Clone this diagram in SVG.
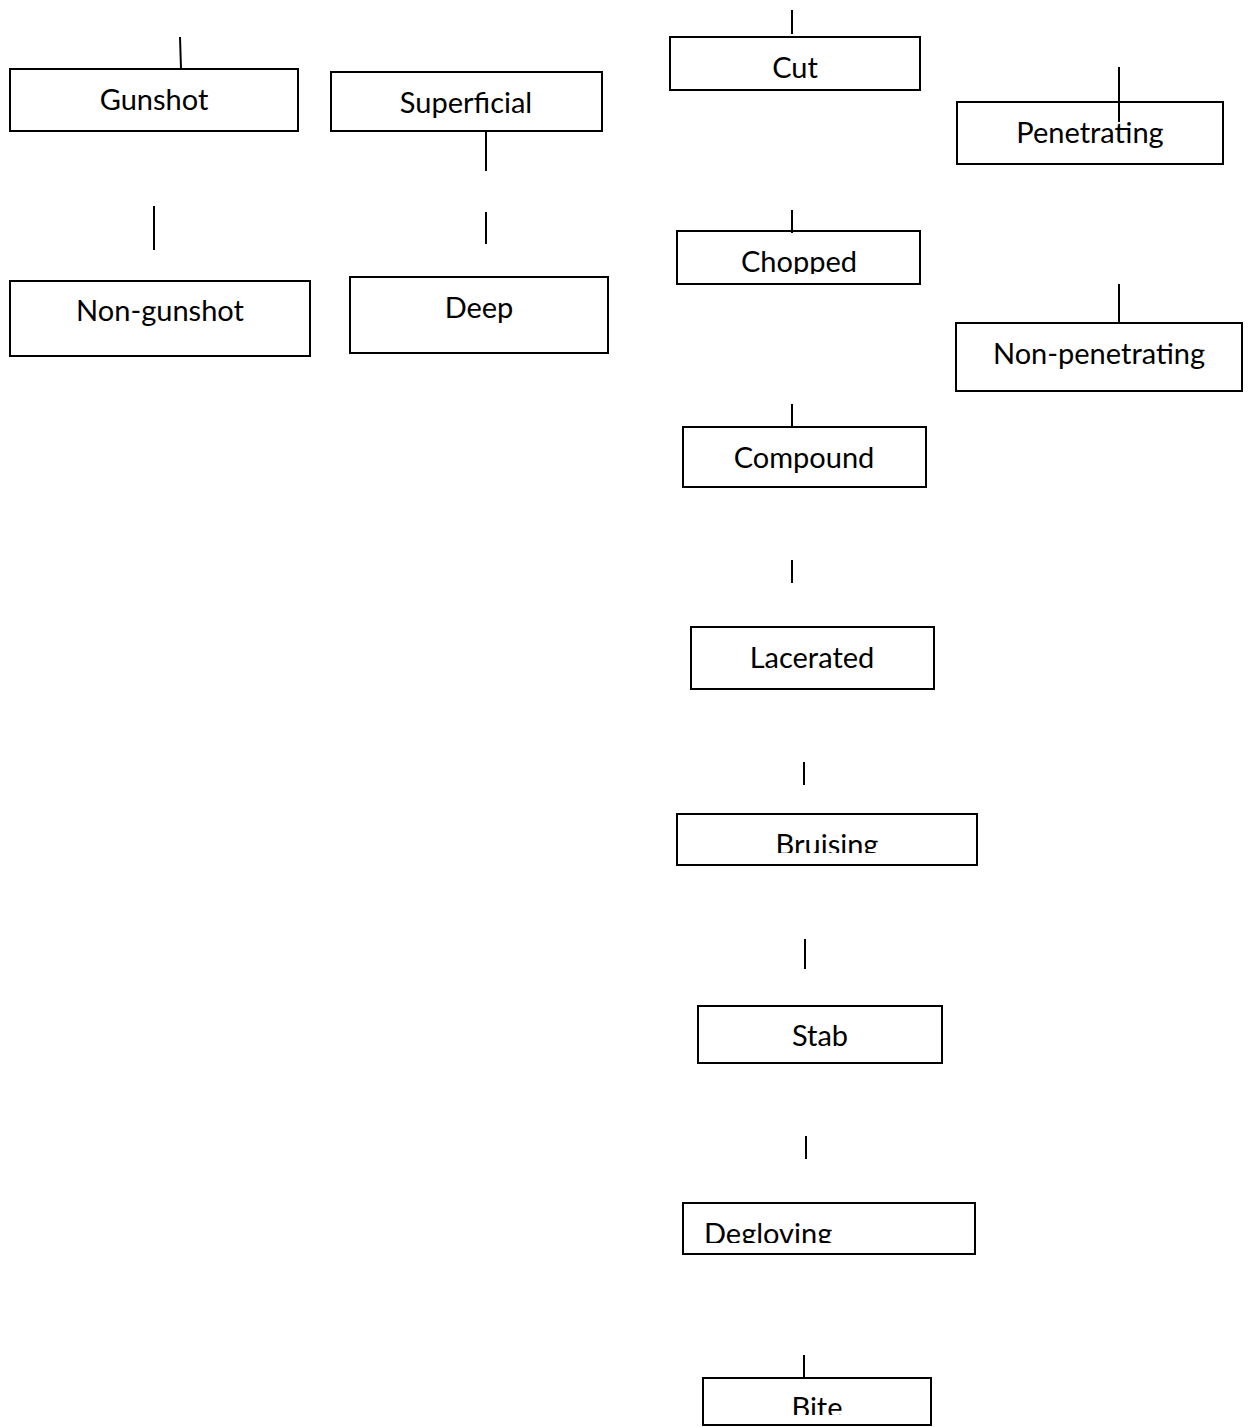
<svg xmlns="http://www.w3.org/2000/svg" width="1248" height="1427" viewBox="0 0 1248 1427">
<style>
.b{fill:#fff;stroke:#000;stroke-width:2}
.t{font-family:Lato,"Open Sans",sans-serif;font-size:29px;fill:#000;text-anchor:middle}
.c line{stroke:#000;stroke-width:2}
</style>
<defs>
<clipPath id="cpC"><rect x="677" y="231" width="244" height="43"/></clipPath>
<clipPath id="cpB"><rect x="677" y="814" width="301" height="39"/></clipPath>
<clipPath id="cpD"><rect x="683" y="1203" width="293" height="40"/></clipPath>
<clipPath id="cpBi"><rect x="703" y="1378" width="229" height="37"/></clipPath>
</defs>
<rect width="1248" height="1427" fill="#fff"/>
<g id="gunshot"><rect class="b" x="10" y="69" width="288" height="62"/><text class="t" x="154" y="110">Gunshot</text></g>
<g id="superficial"><rect class="b" x="331" y="72" width="271" height="59"/><text class="t" x="466" y="113">Superficial</text></g>
<g id="nongunshot"><rect class="b" x="10" y="281" width="300" height="75"/><text class="t" x="160" y="321">Non-gunshot</text></g>
<g id="deep"><rect class="b" x="350" y="277" width="258" height="76"/><text class="t" x="479" y="318">Deep</text></g>
<g id="cut"><rect class="b" x="670" y="37" width="250" height="53"/><text class="t" x="795" y="78">Cut</text></g>
<g id="penetrating"><rect class="b" x="957" y="102" width="266" height="62"/><text class="t" x="1090" y="143">Penetrating</text></g>
<g id="chopped"><rect class="b" x="677" y="231" width="243" height="53"/><text class="t" x="799" y="272" clip-path="url(#cpC)">Chopped</text></g>
<g id="nonpenetrating"><rect class="b" x="956" y="323" width="286" height="68"/><text class="t" x="1099" y="364">Non-penetrating</text></g>
<g id="compound"><rect class="b" x="683" y="427" width="243" height="60"/><text class="t" x="804" y="468">Compound</text></g>
<g id="lacerated"><rect class="b" x="691" y="627" width="243" height="62"/><text class="t" x="812" y="668">Lacerated</text></g>
<g id="bruising"><rect class="b" x="677" y="814" width="300" height="51"/><text class="t" x="827" y="855" clip-path="url(#cpB)">Bruising</text></g>
<g id="stab"><rect class="b" x="698" y="1006" width="244" height="57"/><text class="t" x="820" y="1046">Stab</text></g>
<g id="degloving"><rect class="b" x="683" y="1203" width="292" height="51"/><text class="t" x="704" y="1244" style="text-anchor:start" clip-path="url(#cpD)">Degloving</text></g>
<g id="bite"><rect class="b" x="703" y="1378" width="228" height="47"/><text class="t" x="817" y="1418" clip-path="url(#cpBi)">Bite</text></g>
<g id="connectors" class="c">
<line x1="180" y1="37" x2="181" y2="69"/>
<line x1="486" y1="131" x2="486" y2="171"/>
<line x1="154" y1="206" x2="154" y2="250"/>
<line x1="486" y1="212" x2="486" y2="244"/>
<line x1="792" y1="10" x2="792" y2="34"/>
<line x1="1119" y1="67" x2="1119" y2="122"/>
<line x1="792" y1="210" x2="792" y2="233"/>
<line x1="1119" y1="284" x2="1119" y2="322"/>
<line x1="792" y1="404" x2="792" y2="426"/>
<line x1="792" y1="560" x2="792" y2="583"/>
<line x1="804" y1="762" x2="804" y2="785"/>
<line x1="805" y1="939" x2="805" y2="969"/>
<line x1="806" y1="1136" x2="806" y2="1159"/>
<line x1="804" y1="1355" x2="804" y2="1377"/>
</g>
</svg>
